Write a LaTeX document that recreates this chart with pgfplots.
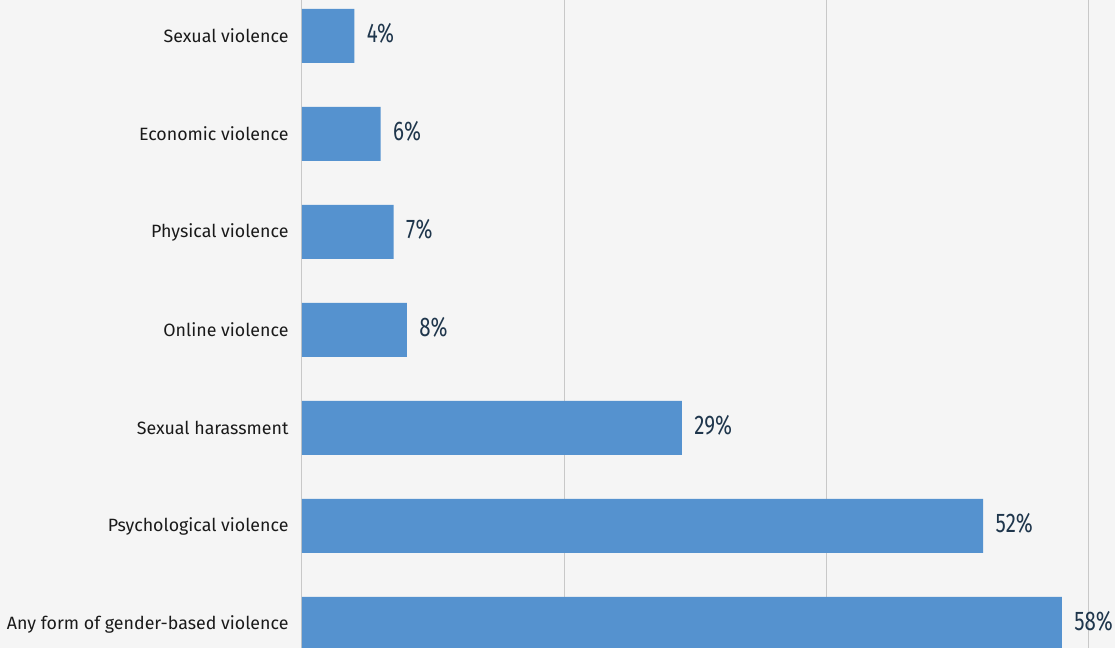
\documentclass[border=0pt]{standalone}
\usepackage{pgfplots}
\pgfplotsset{compat=1.18}
\usepackage{fontspec}
\setmainfont{Fira Sans}
\newfontfamily\valfont[FakeStretch=0.76]{Fira Sans}
\usetikzlibrary{backgrounds}
\definecolor{bgc}{HTML}{F5F5F5}
\definecolor{barc}{HTML}{5592CF}
\definecolor{valc}{HTML}{1F364C}
\definecolor{gridc}{HTML}{C8C8C8}
\definecolor{labc}{HTML}{1A1A1A}
\begin{document}
\begin{tikzpicture}
\begin{axis}[
  xbar,
  width=813bp, height=648bp, scale only axis,
  xmin=0, xmax=62.06, ymin=-0.245, ymax=6.367,
  bar width=54bp,
  ytick={0,1,2,3,4,5,6},
  yticklabels={Any form of gender-based violence,Psychological violence,Sexual harassment,Online violence,Physical violence,Economic violence,Sexual violence},
  xtick={0,20,40,60}, xticklabels={},
  xmajorgrids, grid style={draw=gridc, line width=1bp},
  axis line style={draw=none},
  major tick length=0pt,
  y tick label style={font=\fontsize{17.8bp}{20bp}\selectfont, text=labc, anchor=east, xshift=-10bp},
  point meta=x,
  /pgf/number format/assume math mode=true,
  nodes near coords={\pgfmathprintnumber{\pgfplotspointmeta}\%},
  nodes near coords style={anchor=west, xshift=9bp, yshift=3bp, font=\valfont\fontsize{27bp}{30bp}\selectfont, text=valc},
]
\addplot[fill=barc, draw=none] coordinates {(58,0) (52,1) (29,2) (8,3) (7,4) (6,5) (4,6)};
\coordinate (sw) at (rel axis cs:0,0);
\coordinate (ne) at (rel axis cs:1,1);
\end{axis}
\begin{scope}[on background layer]
\fill[bgc] ([xshift=-302bp]sw) rectangle (ne);
\end{scope}
\pgfresetboundingbox
\path ([xshift=-302bp]sw) rectangle (ne);
\end{tikzpicture}
\end{document}
